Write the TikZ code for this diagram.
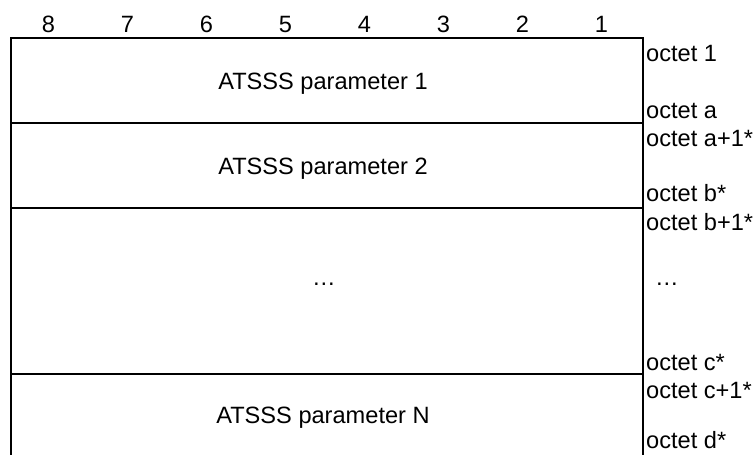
\documentclass[tikz,border=0pt]{standalone}
\usepackage{fontspec}
\setmainfont{Liberation Sans}
\begin{document}
\begin{tikzpicture}[x=1pt,y=-1pt,
  frame/.style={line width=2.4pt,line cap=rect},
  lbl/.style={inner sep=0pt,text height=16.8pt,text depth=0pt,font=\fontsize{23.6}{28}\selectfont},
  oct/.style={lbl,anchor=west}]
\useasboundingbox (0,0) rectangle (755,455);
% bit numbers
\foreach \i in {1,...,8}{
  \node[lbl] (bit\i) at ({11+79*(8-\i+0.5)-2},24) {\i};
}
% frame
\coordinate (tl) at (11,38);
\coordinate (tr) at (643,38);
\coordinate (bl) at (11,455);
\coordinate (br) at (643,455);
\draw[frame] (tl) -- (tr);
\draw[frame] (tl) -- (bl);
\draw[frame] (tr) -- (br);
\draw[frame] (11,123) -- (643,123);
\draw[frame] (11,208) -- (643,208);
\draw[frame] (11,374) -- (643,374);
% fields
\node[lbl] (p1) at (323,81) {ATSSS parameter 1};
\node[lbl] (p2) at (323,166) {ATSSS parameter 2};
\node[lbl] (pd) at (324,277) {…};
\node[lbl] (pn) at (323,415) {ATSSS parameter N};
% octet labels
\node[oct] (o1) at (646,53) {octet 1};
\node[oct] (oa) at (646,110) {octet a};
\node[oct] (oa1) at (646,138) {octet a+1*};
\node[oct] (ob) at (646,193) {octet b*};
\node[oct] (ob1) at (646,222) {octet b+1*};
\node[oct] (od) at (655,277) {…};
\node[oct] (oc) at (646,362) {octet c*};
\node[oct] (oc1) at (646,390) {octet c+1*};
\node[oct] (odd) at (646,440) {octet d*};
\end{tikzpicture}
\end{document}
